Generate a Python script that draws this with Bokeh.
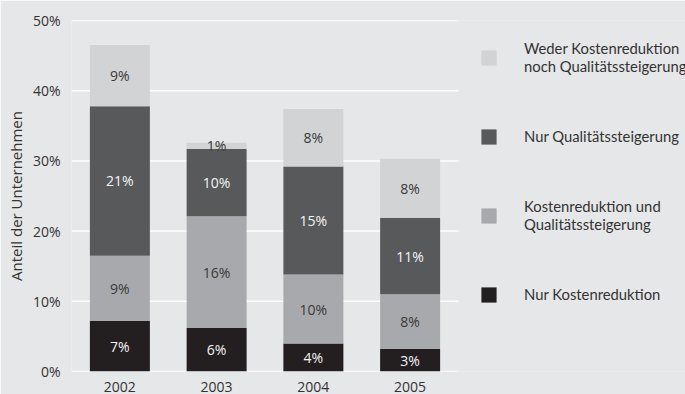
import numpy as np
from bokeh.plotting import figure
from bokeh.models import (ColumnDataSource, FixedTicker, PrintfTickFormatter,
                          Legend, LegendItem, LabelSet, Range1d)
from bokeh.core.properties import value
from bokeh.embed import file_html
from bokeh.resources import INLINE

# ---- data ----
years = ["2002", "2003", "2004", "2005"]
nur_kosten = [7.2, 6.2, 4.0, 3.2]           # Nur Kostenreduktion
kosten_und_qual = [9.3, 15.9, 9.8, 7.8]     # Kostenreduktion und Qualitätssteigerung
nur_qual = [21.3, 9.6, 15.4, 10.9]          # Nur Qualitätssteigerung
weder = [8.7, 0.9, 8.2, 8.4]                # Weder Kostenreduktion noch Qualitätssteigerung
y_ticks = [0, 10, 20, 30, 40, 50]

series_keys = ["nur_kosten", "kosten_und_qual", "nur_qual", "weder"]
series_values = [nur_kosten, kosten_und_qual, nur_qual, weder]
series_names = ["Nur Kostenreduktion",
                "Kostenreduktion und\nQualitätssteigerung",
                "Nur Qualitätssteigerung",
                "Weder Kostenreduktion\nnoch Qualitätssteigerung"]
colors = ["#231f20", "#a7a9ac", "#58595b", "#d1d3d4"]
label_colors = ["#f4f4f4", "#3a3a3a", "#f4f4f4", "#3a3a3a"]

BG = "#e6e7e8"
TXT = "#333333"

n = len(years)
xpos = np.arange(n) + 0.5          # category centres
source = ColumnDataSource(dict(x=xpos, **{k: v for k, v in zip(series_keys, series_values)}))

# the frame also hosts the legend area on the right (x beyond the 4 categories)
p = figure(x_range=Range1d(0, n * 614 / 387), y_range=Range1d(0, 50),
           width=685, height=394, output_backend="svg", toolbar_location=None,
           min_border_left=71, min_border_right=0, min_border_top=20, min_border_bottom=22)
p.background_fill_color = BG
p.border_fill_color = BG
p.outline_line_color = None
p.xgrid.grid_line_color = None
p.ygrid.grid_line_color = None

# horizontal gridlines across the category area only
p.segment(x0=[0] * len(y_ticks), x1=[n] * len(y_ticks), y0=y_ticks, y1=y_ticks,
          line_color="white", line_width=1.5)

renderers = p.vbar_stack(series_keys, x="x", width=0.62, source=source,
                         fill_color=colors, line_color=None)

# axes
p.yaxis.ticker = FixedTicker(ticks=y_ticks)
p.yaxis.formatter = PrintfTickFormatter(format="%d%%")
p.xaxis.ticker = FixedTicker(ticks=list(xpos))
p.xaxis.major_label_overrides = {float(x): y for x, y in zip(xpos, years)}
for ax in (p.xaxis[0], p.yaxis[0]):
    ax.axis_line_color = None
    ax.major_tick_line_color = None
    ax.minor_tick_line_color = None
    ax.major_label_text_font = "Open Sans"
    ax.major_label_text_font_size = "14px"
    ax.major_label_text_color = TXT
p.yaxis.major_label_standoff = 5
p.xaxis.major_label_standoff = 4

p.yaxis.axis_label = "Anteil der Unternehmen"
p.yaxis.axis_label_text_font = "Open Sans"
p.yaxis.axis_label_text_font_size = "15px"
p.yaxis.axis_label_text_font_style = "normal"
p.yaxis.axis_label_text_color = TXT
p.yaxis.axis_label_standoff = 4

# segment labels
bottoms = np.zeros(n)
for vals, tc in zip(series_values, label_colors):
    vals = np.array(vals)
    mids = bottoms + vals / 2
    src = ColumnDataSource(dict(x=xpos, y=mids, text=[f"{round(v)}%" for v in vals]))
    p.add_layout(LabelSet(x="x", y="y", text="text", source=src,
                          text_align="center", text_baseline="middle",
                          text_color=tc, text_font=value("Open Sans"),
                          text_font_size=value("14px")))
    bottoms += vals

# legend
items = [LegendItem(label=series_names[i], renderers=[renderers[i]]) for i in [3, 2, 1, 0]]
legend = Legend(items=items, location=(408, 57), orientation="vertical",
                glyph_width=19, glyph_height=19, label_standoff=26, label_height=40,
                spacing=39, padding=0, margin=0,
                border_line_color=None, background_fill_alpha=0,
                label_text_font="Lato", label_text_font_size="14.8px",
                label_text_color=TXT, label_text_line_height=1.15)
p.add_layout(legend)

open("out.html", "w").write(file_html(p, INLINE))
